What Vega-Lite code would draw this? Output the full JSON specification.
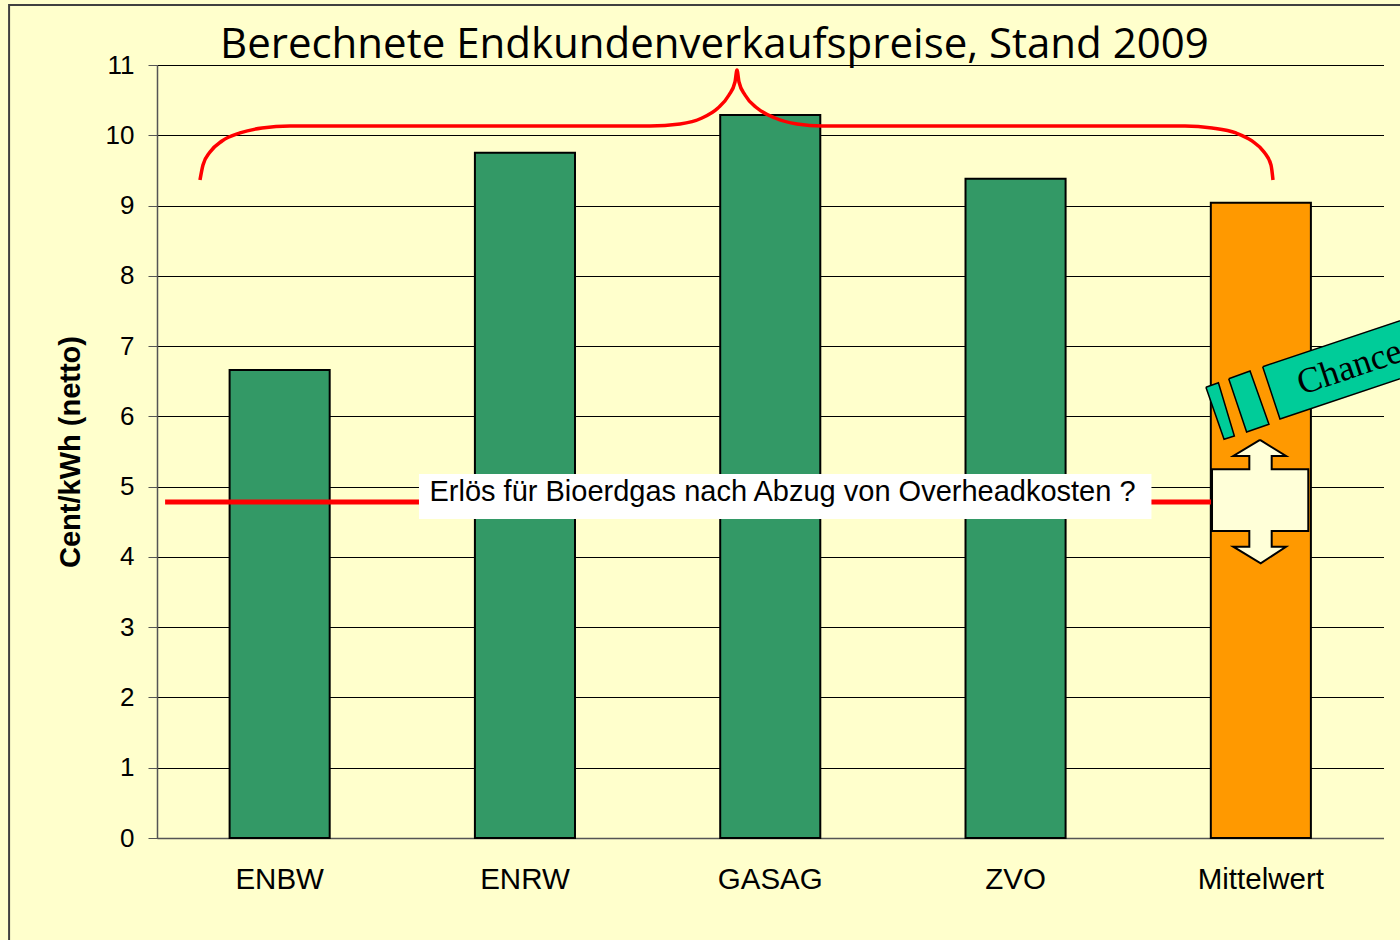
{
  "$schema": "https://vega.github.io/schema/vega-lite/v6.json",
  "autosize": {"type": "none"},
  "width": 1226.5,
  "height": 773,
  "padding": {"left": 157, "top": 65, "right": 17, "bottom": 102},
  "background": "#FFFFCC",
  "config": {"view": {"stroke": null}, "font": "Liberation Sans"},
  "title": {
    "text": "Berechnete Endkundenverkaufspreise, Stand 2009",
    "font": "Open Sans",
    "fontSize": 42,
    "fontWeight": "normal",
    "color": "#000000",
    "anchor": "start",
    "frame": "group",
    "dx": 63,
    "baseline": "alphabetic",
    "offset": -96
  },
  "datasets": {
    "bars": [
      {"Anbieter": "ENBW", "Wert": 6.66},
      {"Anbieter": "ENRW", "Wert": 9.75},
      {"Anbieter": "GASAG", "Wert": 10.29},
      {"Anbieter": "ZVO", "Wert": 9.38},
      {"Anbieter": "Mittelwert", "Wert": 9.04}
    ],
    "brace": [
      {"cx": 0.1753, "v": 9.364}, {"cx": 0.1875, "v": 9.577}, {"cx": 0.2161, "v": 9.762},
      {"cx": 0.265, "v": 9.919}, {"cx": 0.3384, "v": 10.033}, {"cx": 0.4281, "v": 10.104},
      {"cx": 0.5422, "v": 10.133}, {"cx": 2.0098, "v": 10.133}, {"cx": 2.1321, "v": 10.161},
      {"cx": 2.2218, "v": 10.246}, {"cx": 2.287, "v": 10.388}, {"cx": 2.3318, "v": 10.573},
      {"cx": 2.3563, "v": 10.758}, {"cx": 2.3644, "v": 10.929}, {"cx": 2.3726, "v": 10.758},
      {"cx": 2.3971, "v": 10.573}, {"cx": 2.446, "v": 10.388}, {"cx": 2.5194, "v": 10.246},
      {"cx": 2.6091, "v": 10.161}, {"cx": 2.711, "v": 10.133}, {"cx": 4.1908, "v": 10.133},
      {"cx": 4.3009, "v": 10.104}, {"cx": 4.3987, "v": 10.033}, {"cx": 4.4639, "v": 9.919},
      {"cx": 4.5129, "v": 9.762}, {"cx": 4.5414, "v": 9.577}, {"cx": 4.5495, "v": 9.364}
    ],
    "erloes": [
      {"cx": 0.033, "v": 4.78}, {"cx": 4.301, "v": 4.78}
    ],
    "labelbox": [
      {"cx": 1.068, "cx2": 4.054, "v": 5.18, "v2": 4.54, "text": "Erlös für Bioerdgas nach Abzug von Overheadkosten ?", "tx": 2.55, "ty": 4.92}
    ],
    "ticks": [
      {"cx": 0}, {"cx": 1}, {"cx": 2}, {"cx": 3}, {"cx": 4}, {"cx": 5}
    ],
    "frame": [
      {"cx": -0.603, "cx2": 6.5, "v": 11.854, "v2": -3}
    ],
    "arrow": [
      {"i": 1, "cx": 4.4965, "v": 5.664}, {"i": 2, "cx": 4.6025, "v": 5.436},
      {"i": 3, "cx": 4.5442, "v": 5.436}, {"i": 4, "cx": 4.5442, "v": 5.247},
      {"i": 5, "cx": 4.6934, "v": 5.247}, {"i": 6, "cx": 4.6934, "v": 4.369},
      {"i": 7, "cx": 4.5442, "v": 4.369}, {"i": 8, "cx": 4.5442, "v": 4.145},
      {"i": 9, "cx": 4.6025, "v": 4.145}, {"i": 10, "cx": 4.4994, "v": 3.909},
      {"i": 11, "cx": 4.3877, "v": 4.145}, {"i": 12, "cx": 4.453, "v": 4.145},
      {"i": 13, "cx": 4.453, "v": 4.369}, {"i": 14, "cx": 4.3009, "v": 4.369},
      {"i": 15, "cx": 4.3009, "v": 5.247}, {"i": 16, "cx": 4.453, "v": 5.247},
      {"i": 17, "cx": 4.453, "v": 5.436}, {"i": 18, "cx": 4.3877, "v": 5.436},
      {"i": 19, "cx": 4.4965, "v": 5.664}
    ],
    "chance": [
      {"shape": "a", "i": 1, "cx": 4.5075, "v": 6.707}, {"shape": "a", "i": 2, "cx": 5.475, "v": 7.838},
      {"shape": "a", "i": 3, "cx": 5.475, "v": 7.011}, {"shape": "a", "i": 4, "cx": 4.578, "v": 5.963},
      {"shape": "a", "i": 5, "cx": 4.5075, "v": 6.707},
      {"shape": "b", "i": 1, "cx": 4.369, "v": 6.536}, {"shape": "b", "i": 2, "cx": 4.456, "v": 6.646},
      {"shape": "b", "i": 3, "cx": 4.533, "v": 5.887}, {"shape": "b", "i": 4, "cx": 4.442, "v": 5.778},
      {"shape": "b", "i": 5, "cx": 4.369, "v": 6.536},
      {"shape": "c", "i": 1, "cx": 4.276, "v": 6.414}, {"shape": "c", "i": 2, "cx": 4.327, "v": 6.479},
      {"shape": "c", "i": 3, "cx": 4.392, "v": 5.721}, {"shape": "c", "i": 4, "cx": 4.35, "v": 5.674},
      {"shape": "c", "i": 5, "cx": 4.276, "v": 6.414}
    ],
    "chancetext": [
      {"cx": 4.667, "v": 6.304, "text": "Chance"}
    ]
  },
  "layer": [
    {
      "data": {"name": "bars"},
      "mark": {"type": "bar", "stroke": "#000000", "strokeWidth": 2},
      "encoding": {
        "x": {
          "field": "Anbieter", "type": "nominal", "sort": null,
          "scale": {"paddingInner": 0.592, "paddingOuter": 0.296},
          "axis": {
            "title": null, "labelAngle": 0, "labelFontSize": 29.5, "labelColor": "#000000",
            "labelPadding": 27, "ticks": false, "domainColor": "#555555", "domainWidth": 1.5,
            "grid": false
          }
        },
        "y": {
          "field": "Wert", "type": "quantitative",
          "scale": {"domain": [0, 11], "nice": false},
          "axis": {
            "title": "Cent/kWh (netto)", "titleFontSize": 29, "titleFontWeight": "bold",
            "titleColor": "#000000", "titlePadding": 20,
            "values": [0, 1, 2, 3, 4, 5, 6, 7, 8, 9, 10, 11], "format": "d",
            "labelFontSize": 26, "labelColor": "#000000", "labelPadding": 14,
            "tickSize": 9, "tickColor": "#555555", "domainColor": "#555555", "domainWidth": 1.5,
            "grid": true, "gridColor": "#000000", "gridWidth": 1, "gridOpacity": 1
          }
        },
        "color": {
          "field": "Anbieter", "type": "nominal",
          "scale": {"domain": ["ENBW", "ENRW", "GASAG", "ZVO", "Mittelwert"],
                    "range": ["#339966", "#339966", "#339966", "#339966", "#FF9900"]},
          "legend": null
        }
      }
    },
    {
      "encoding": {
        "x": {"field": "cx", "type": "quantitative", "scale": {"domain": [0, 5], "nice": false, "zero": false}, "axis": null},
        "y": {"field": "v", "type": "quantitative"}
      },
      "layer": [
        {
          "data": {"name": "frame"},
          "mark": {"type": "rect", "fill": null, "stroke": "#404040", "strokeWidth": 2},
          "encoding": {"x2": {"field": "cx2"}, "y2": {"field": "v2"}}
        },
        {
          "data": {"name": "ticks"},
          "mark": {"type": "rule", "stroke": "#555555", "strokeWidth": 1.5},
          "encoding": {"y": {"datum": 0}, "y2": {"datum": -0.13}}
        },
        {
          "data": {"name": "brace"},
          "mark": {"type": "line", "stroke": "#FF0000", "strokeWidth": 3.5, "interpolate": "monotone"},
          "encoding": {}
        },
        {
          "data": {"name": "erloes"},
          "mark": {"type": "line", "stroke": "#FF0000", "strokeWidth": 5},
          "encoding": {}
        },
        {
          "data": {"name": "labelbox"},
          "mark": {"type": "rect", "fill": "#FFFFFF", "stroke": null},
          "encoding": {"x2": {"field": "cx2"}, "y2": {"field": "v2"}}
        },
        {
          "data": {"name": "labelbox"},
          "mark": {"type": "text", "fontSize": 29, "color": "#000000", "align": "center", "baseline": "middle"},
          "encoding": {"x": {"field": "tx", "type": "quantitative"}, "y": {"field": "ty", "type": "quantitative"}, "text": {"field": "text"}}
        },
        {
          "data": {"name": "arrow"},
          "mark": {"type": "line", "fill": "#FFFFD8", "stroke": "#000000", "strokeWidth": 2, "interpolate": "linear"},
          "encoding": {"order": {"field": "i", "type": "quantitative"}}
        },
        {
          "data": {"name": "chance"},
          "mark": {"type": "line", "fill": "#00CC99", "stroke": "#000000", "strokeWidth": 1.5, "interpolate": "linear"},
          "encoding": {"order": {"field": "i", "type": "quantitative"}, "detail": {"field": "shape"}}
        },
        {
          "data": {"name": "chancetext"},
          "mark": {"type": "text", "font": "Liberation Serif", "fontSize": 36, "color": "#000000", "align": "left", "baseline": "alphabetic", "angle": -18.5},
          "encoding": {"text": {"field": "text"}}
        }
      ]
    }
  ],
  "resolve": {"scale": {"x": "independent"}}
}
